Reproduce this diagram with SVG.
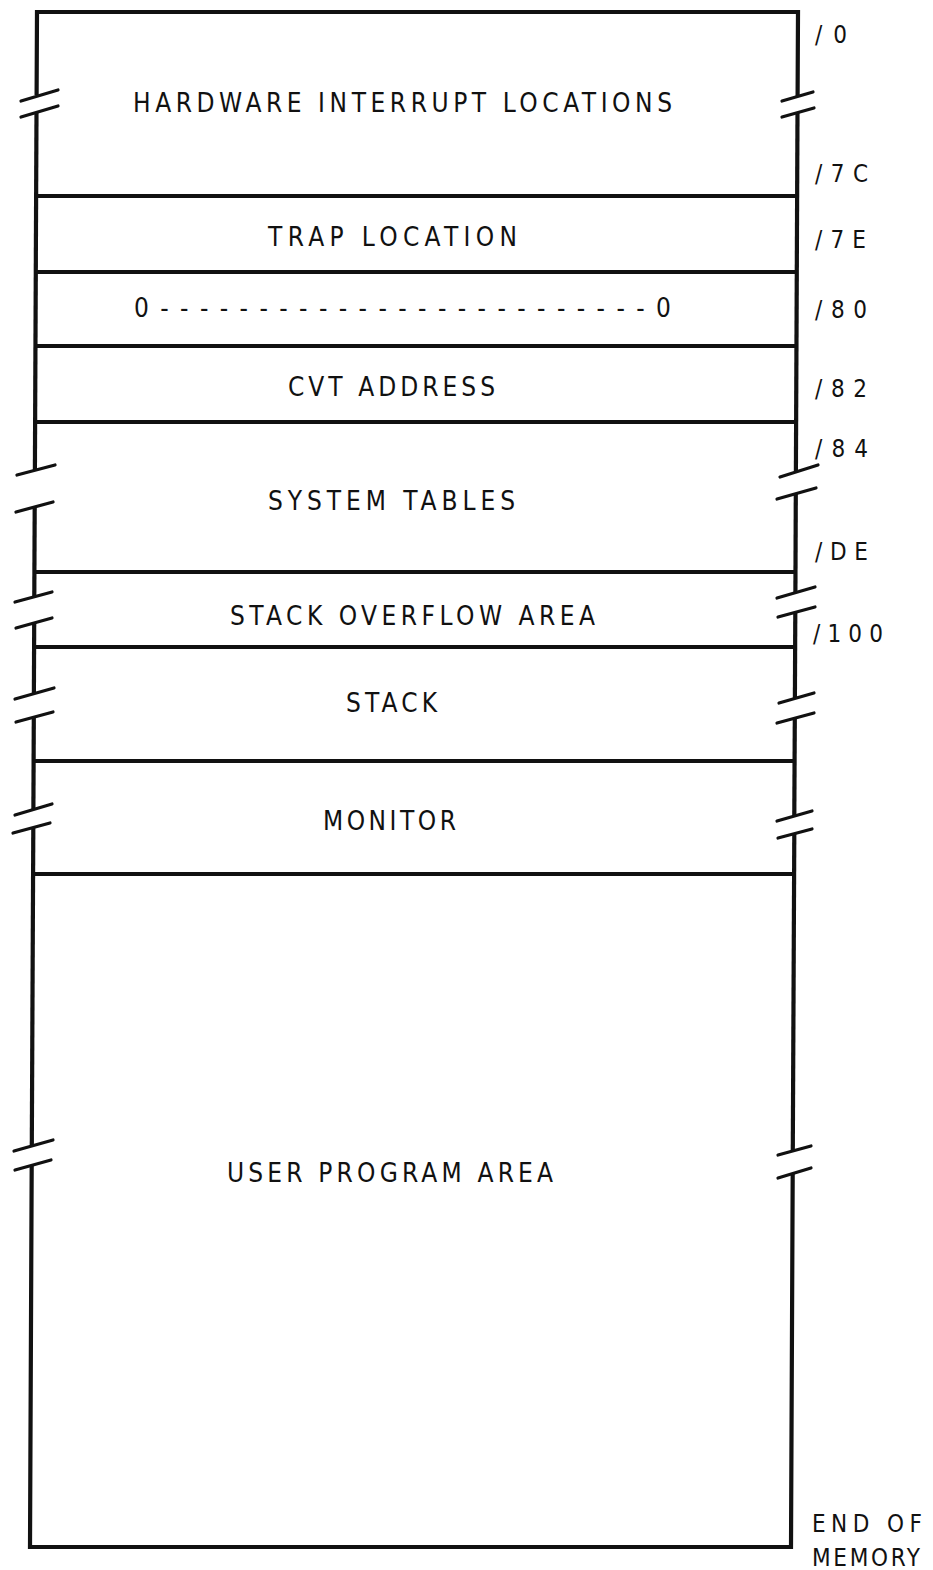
<svg xmlns="http://www.w3.org/2000/svg" width="933" height="1570" viewBox="0 0 933 1570">
<style>
.edge{fill:none;stroke:#111;stroke-width:4.2;stroke-linecap:butt;stroke-linejoin:miter}
.div{stroke:#111;stroke-width:4;fill:none}
.brk{stroke:#111;stroke-width:3.2;stroke-linecap:round;fill:none}
.lbl{font-family:"DejaVu Sans Condensed","DejaVu Sans","Liberation Sans",sans-serif;font-size:26px;fill:#111}
.adr{font-family:"DejaVu Sans Condensed","DejaVu Sans","Liberation Sans",sans-serif;font-size:24px;fill:#111}
</style>
<rect width="933" height="1570" fill="#fff"/>
<g id="frame">
  <path class="edge" d="M36.6,95 L37,12 L798,12 L797.6,96"/>
  <path class="edge" d="M36.5,112 L34.9,470"/>
  <path class="edge" d="M34.7,507 L34.3,597"/>
  <path class="edge" d="M34.2,623 L33.9,693"/>
  <path class="edge" d="M33.8,717 L33.4,809"/>
  <path class="edge" d="M33.3,828 L31.8,1145"/>
  <path class="edge" d="M31.7,1165 L30,1547 L791,1547 L792.7,1173"/>
  <path class="edge" d="M797.5,112 L795.9,471"/>
  <path class="edge" d="M795.8,494 L795.4,592"/>
  <path class="edge" d="M795.3,612 L794.9,698"/>
  <path class="edge" d="M794.8,718 L794.3,816"/>
  <path class="edge" d="M794.3,833 L792.8,1150"/>
</g>
<g id="breaks">
  <path class="brk" d="M21,101 L58,90 M21,117 L58,106"/>
  <path class="brk" d="M17,475 L55,465 M16,512 L53,502"/>
  <path class="brk" d="M15,602 L52,592 M16,628 L52,618"/>
  <path class="brk" d="M15,699 L54,688 M16,722 L53,712"/>
  <path class="brk" d="M15,815 L52,804 M13,833 L50,823"/>
  <path class="brk" d="M14,1151 L53,1140 M15,1170 L51,1160"/>
  <path class="brk" d="M782,101 L813,92 M782,117 L814,108"/>
  <path class="brk" d="M780,477 L818,465 M777,499 L816,488"/>
  <path class="brk" d="M777,598 L815,587 M778,617 L815,607"/>
  <path class="brk" d="M779,703 L814,693 M777,723 L814,713"/>
  <path class="brk" d="M777,821 L812,811 M778,838 L812,829"/>
  <path class="brk" d="M778,1155 L811,1146 M778,1178 L811,1168"/>
</g>
<g id="hw-interrupt">
  <text class="lbl" x="133" y="112" textLength="539" lengthAdjust="spacing">HARDWARE INTERRUPT LOCATIONS</text>
</g>
<g id="trap">
  <line class="div" x1="36.2" y1="196" x2="797.2" y2="196"/>
  <text class="lbl" x="268" y="246" textLength="249" lengthAdjust="spacing">TRAP LOCATION</text>
</g>
<g id="zero-word">
  <line class="div" x1="35.8" y1="272" x2="796.8" y2="272"/>
  <text class="lbl" x="134" y="317" textLength="537" lengthAdjust="spacing">0-------------------------0</text>
</g>
<g id="cvt">
  <line class="div" x1="35.5" y1="346" x2="796.5" y2="346"/>
  <text class="lbl" x="288" y="396" textLength="207" lengthAdjust="spacing">CVT ADDRESS</text>
</g>
<g id="system-tables">
  <line class="div" x1="35.1" y1="422" x2="796.1" y2="422"/>
  <text class="lbl" x="268" y="510" textLength="247" lengthAdjust="spacing">SYSTEM TABLES</text>
</g>
<g id="stack-overflow">
  <line class="div" x1="34.4" y1="572" x2="795.4" y2="572"/>
  <text class="lbl" x="230" y="625" textLength="365" lengthAdjust="spacing">STACK OVERFLOW AREA</text>
</g>
<g id="stack">
  <line class="div" x1="34.1" y1="647" x2="795.1" y2="647"/>
  <text class="lbl" x="346" y="712" textLength="91" lengthAdjust="spacing">STACK</text>
</g>
<g id="monitor">
  <line class="div" x1="33.6" y1="761" x2="794.6" y2="761"/>
  <text class="lbl" x="323" y="830" textLength="133" lengthAdjust="spacing">MONITOR</text>
</g>
<g id="user-program">
  <line class="div" x1="33.1" y1="874" x2="794.1" y2="874"/>
  <text class="lbl" x="227" y="1182" textLength="326" lengthAdjust="spacing">USER PROGRAM AREA</text>
</g>
<g id="addresses">
  <text class="adr" x="815" y="43" textLength="32" lengthAdjust="spacing">/0</text>
  <text class="adr" x="815" y="182" textLength="53" lengthAdjust="spacing">/7C</text>
  <text class="adr" x="815" y="248" textLength="51" lengthAdjust="spacing">/7E</text>
  <text class="adr" x="815" y="318" textLength="52" lengthAdjust="spacing">/80</text>
  <text class="adr" x="815" y="397" textLength="52" lengthAdjust="spacing">/82</text>
  <text class="adr" x="815" y="457" textLength="53" lengthAdjust="spacing">/84</text>
  <text class="adr" x="815" y="560" textLength="53" lengthAdjust="spacing">/DE</text>
  <text class="adr" x="813" y="642" textLength="70" lengthAdjust="spacing">/100</text>
  <text class="adr" x="812" y="1532" textLength="110" lengthAdjust="spacing">END OF</text>
  <text class="adr" x="812" y="1566" textLength="108" lengthAdjust="spacing">MEMORY</text>
</g>
</svg>
